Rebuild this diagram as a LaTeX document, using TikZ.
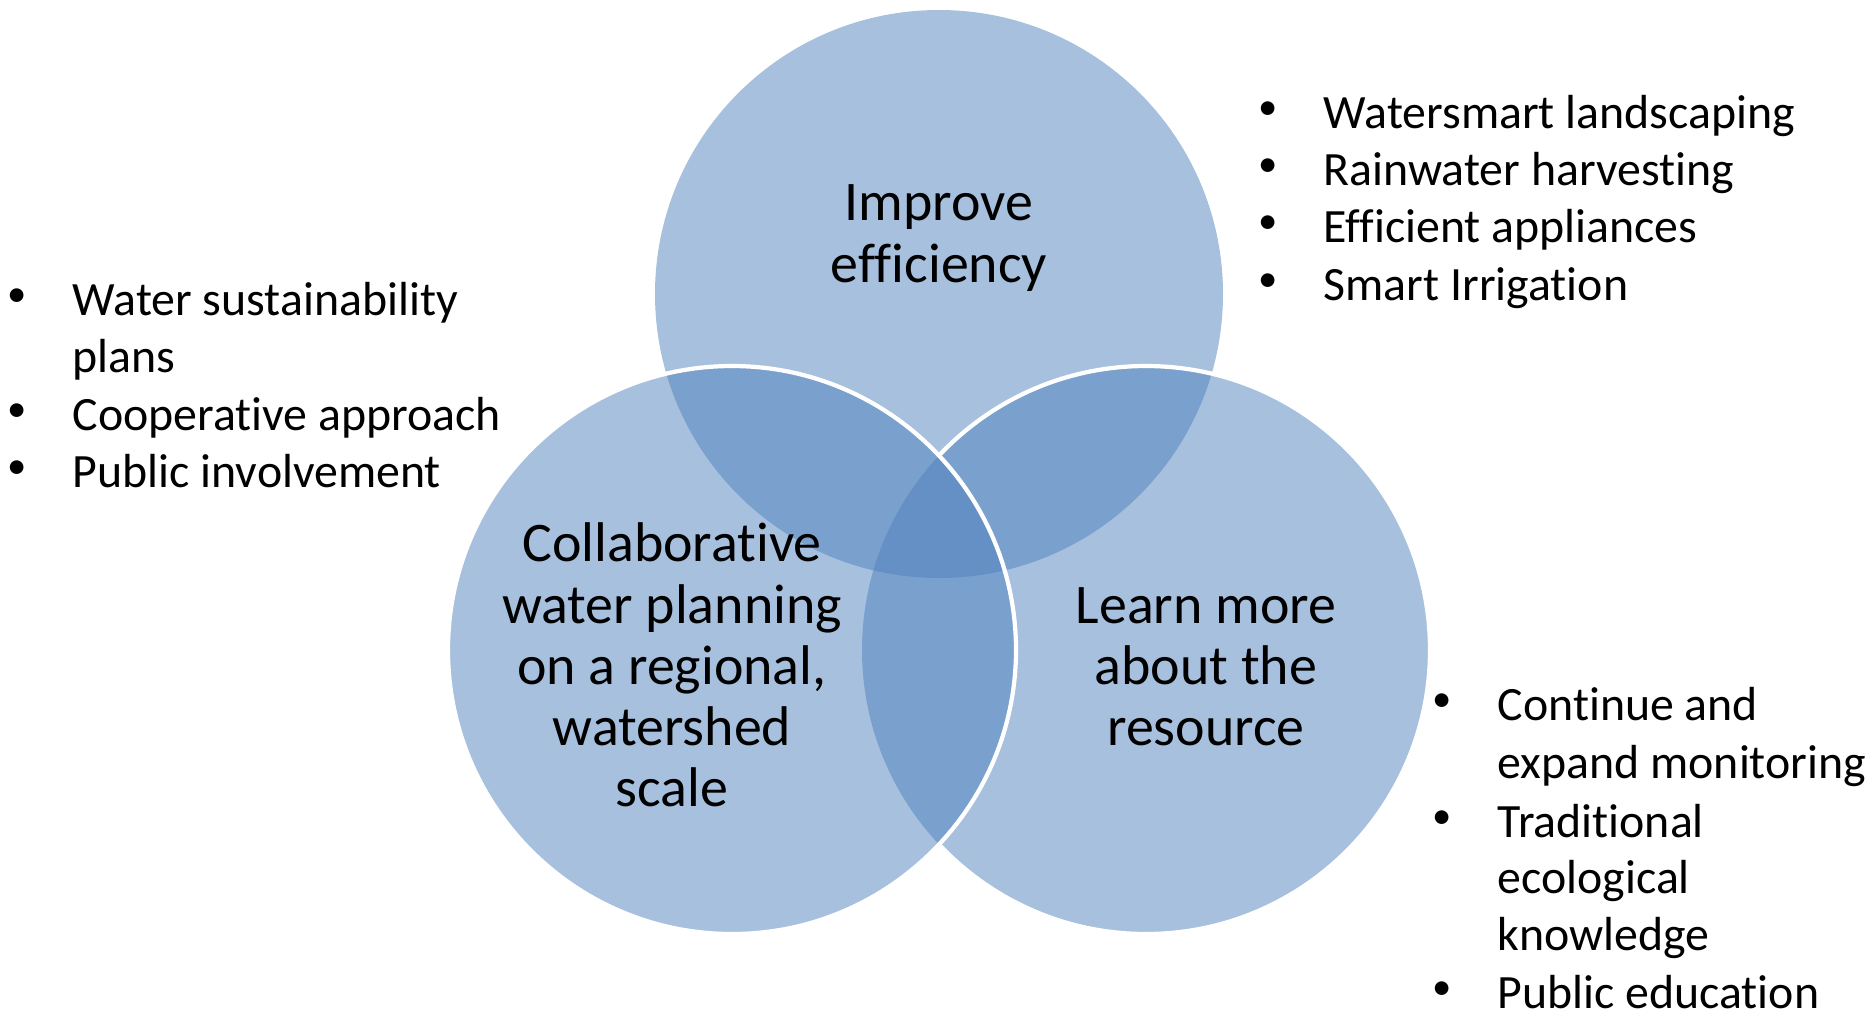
\documentclass[tikz,border=0pt]{standalone}
\usepackage{fontspec}
\setmainfont{Carlito}[Ligatures=NoCommon]
\definecolor{vennblue}{HTML}{4F81BD}
\tikzset{
  vennfill/.style={fill=vennblue, fill opacity=0.5},
  rim/.style={draw=white, line width=1.2pt},
  venntext/.style={align=center, inner sep=0pt, font=\fontsize{15.9}{17.4}\selectfont},
  item/.style={anchor=base west, inner sep=0pt, font=\fontsize{13.6}{16.4}\selectfont},
  dot/.style={anchor=center, inner sep=0pt, font=\fontsize{11}{12}\selectfont}
}

\begin{document}
\begin{tikzpicture}[x=0.01cm, y=-0.01cm]
\useasboundingbox (0,0) rectangle (1871,1011);

% Circles
\foreach \cx/\cy in {939/294, 1146/650, 732/650}
  \fill[vennfill] (\cx,\cy) circle[radius=284];

% White rims (right one hidden inside the left circle)
\begin{scope}[even odd rule]
  \clip (0,0) rectangle (1871,1011) (732,650) circle[radius=284];
  \draw[rim] (1146,650) circle[radius=284];
\end{scope}
\draw[rim] (732,650) circle[radius=284];

% Circle labels
\node[venntext] (improve) at (939,238) {Improve\\efficiency};
\node[venntext] (collab) at (672,665) {Collaborative\\water planning\\on a regional,\\watershed\\scale};
\node[venntext] (learn) at (1206,667) {Learn more\\about the\\resource};

% Left list
\foreach \y [count=\i] in {315,430,487}
  \node[dot] (ldot\i) at (17,\y-17) {\textbullet};
\foreach \y/\txt [count=\i] in {315/Water sustainability, 372/plans, 430/Cooperative approach, 487/Public involvement}
  \node[item] (ltxt\i) at (72,\y) {\txt};

% Top right list
\foreach \y/\txt [count=\i] in {128/Watersmart landscaping, 185/Rainwater harvesting, 242/Efficient appliances, 300/Smart Irrigation} {
  \node[dot] (tdot\i) at (1268,\y-17) {\textbullet};
  \node[item] (ttxt\i) at (1323,\y) {\txt};
}

% Bottom right list
\foreach \y [count=\i] in {720,837,1008}
  \node[dot] (bdot\i) at (1442,\y-17) {\textbullet};
\foreach \y/\txt [count=\i] in {720/Continue and, 778/expand monitoring, 837/Traditional, 893/ecological, 950/knowledge, 1008/Public education}
  \node[item] (btxt\i) at (1497,\y) {\txt};

\end{tikzpicture}
\end{document}
